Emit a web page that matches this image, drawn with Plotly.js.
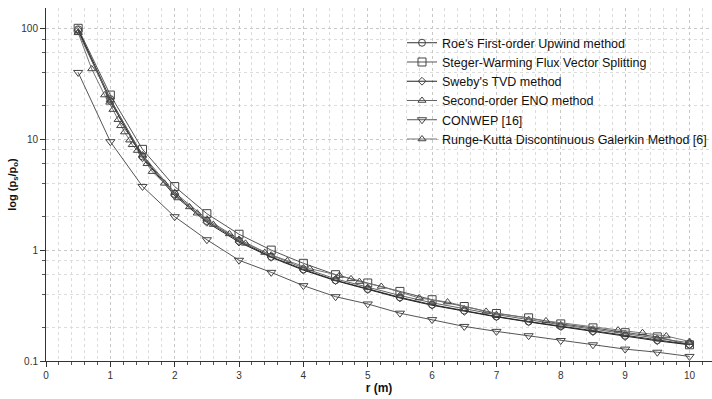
<!DOCTYPE html>
<html>
<head>
<meta charset="utf-8">
<script src="https://cdn.plot.ly/plotly-3.0.1.min.js"></script>
<style>html,body{margin:0;padding:0;background:#fff;}#chart{width:712px;height:399px;}</style>
</head>
<body>
<div id="chart"></div>
<script>
// Distance r (m) at the common sampling points
const rCommon = [0.5,1,1.5,2,2.5,3,3.5,4,4.5,5,5.5,6,6.5,7,7.5,8,8.5,9,9.5,10];
const roe     = [98,23,7.0,3.2,1.83,1.21,0.87,0.67,0.535,0.445,0.375,0.322,0.285,0.252,0.227,0.206,0.186,0.169,0.154,0.141];
const steger  = [100,25,8.1,3.74,2.13,1.39,1.0,0.76,0.6,0.505,0.424,0.357,0.31,0.268,0.245,0.216,0.199,0.18,0.165,0.14];
const sweby   = [96,22,6.8,3.1,1.78,1.18,0.86,0.66,0.53,0.44,0.37,0.318,0.28,0.25,0.225,0.204,0.184,0.166,0.152,0.14];
const eno     = [92,22.5,7.2,3.3,1.9,1.25,0.9,0.69,0.55,0.46,0.39,0.335,0.295,0.262,0.236,0.212,0.194,0.176,0.16,0.146];
const conwep  = [40,9.5,3.75,2.0,1.24,0.81,0.63,0.478,0.38,0.327,0.27,0.236,0.205,0.185,0.169,0.153,0.14,0.128,0.12,0.11];
const rRkdg   = [0.5,0.71,0.91,0.99,1.04,1.12,1.16,1.22,1.30,1.34,1.42,1.57,1.65,1.84,2.05,2.23,2.35,2.6,2.85,3.1,3.4,3.75,4.1,4.56,4.74,4.87,5.21,5.8,6.24,6.84,7.77,8.89,9.27,9.64,10];
const rkdg    = [91,43,25,21.5,18.5,15,13.2,11.6,9.8,8.9,7.9,6.0,5.1,4.0,2.95,2.45,2.15,1.7,1.4,1.15,0.95,0.8,0.68,0.59,0.55,0.52,0.47,0.37,0.34,0.28,0.23,0.19,0.18,0.168,0.15];

const names = ["Roe's First-order Upwind method","Steger-Warming Flux Vector Splitting","Sweby's TVD method","Second-order ENO method","CONWEP [16]","Runge-Kutta Discontinuous Galerkin Method [6]"];
const symbols = ['circle-open','square-open','diamond-open','triangle-up-open','triangle-down-open','triangle-up-open'];
const sizes = [7,8,6,7,8,7];
const xs = [rCommon,rCommon,rCommon,rCommon,rCommon,rRkdg];
const ys = [roe,steger,sweby,eno,conwep,rkdg];
const lineCols = ['#333','#555','#222','#666','#555','#777'];

const traces = names.map((n,i)=>({
  type:'scatter', mode:'lines+markers', name:n, x:xs[i], y:ys[i],
  line:{color:lineCols[i], width:1},
  marker:{symbol:symbols[i], size:sizes[i], color:'#444', line:{width:1}}
}));

const yMinor = [0.2,0.4,0.6,0.8,2,4,6,8,20,40,60,80];
const layout = {
  width:712, height:399,
  margin:{l:46, r:0, t:8, b:38, autoexpand:false},
  paper_bgcolor:'#fff', plot_bgcolor:'#fff',
  font:{family:'Liberation Sans, Arial, sans-serif', color:'#222'},
  showlegend:true,
  legend:{x:1.0, y:0.943, xanchor:'right', yanchor:'top', bgcolor:'rgba(0,0,0,0)',
          font:{size:12.5, color:'#111'}, tracegroupgap:0, itemwidth:30},
  xaxis:{range:[0,10.35], tickvals:[0,1,2,3,4,5,6,7,8,9,10], ticks:'outside', ticklen:5,
         tickcolor:'#333', showline:true, linecolor:'#333', linewidth:1, zeroline:false,
         showgrid:true, gridcolor:'#c8c8c8', griddash:'dot', gridwidth:1,
         tickfont:{size:10, color:'#333'},
         minor:{dtick:0.2, ticks:'outside', ticklen:3, tickcolor:'#555', showgrid:true, gridcolor:'#dcdcdc', griddash:'dot'},
         title:{text:'<b>r (m)</b>', font:{size:12, color:'#111'}, standoff:1}},
  yaxis:{type:'log', range:[-1,2.183], tickvals:[0.1,1,10,100], ticktext:['0.1','1','10','100'],
         ticks:'outside', ticklen:5, tickcolor:'#333', showline:true, linecolor:'#333', linewidth:1,
         zeroline:false, showgrid:true, gridcolor:'#c8c8c8', griddash:'dot',
         tickfont:{size:10, color:'#333'},
         minor:{tickvals:yMinor, ticks:'outside', ticklen:3, tickcolor:'#555', showgrid:true, gridcolor:'#dcdcdc', griddash:'dot'},
         title:{text:'<b>log (p<sub>s</sub>/p<sub>o</sub>)</b>', font:{size:11, color:'#111'}, standoff:2}}
};
Plotly.newPlot('chart', traces, layout, {displayModeBar:false, staticPlot:true});
</script>
</body>
</html>
